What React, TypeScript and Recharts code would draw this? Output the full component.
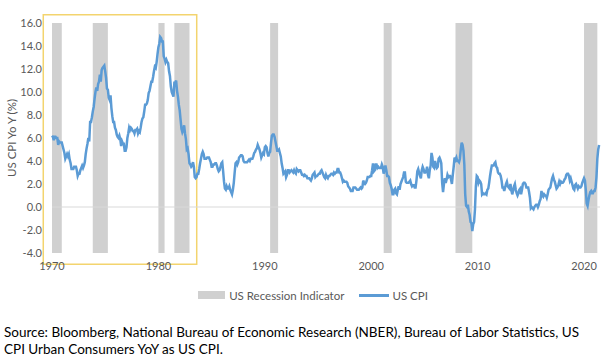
import {
  ComposedChart,
  Line,
  XAxis,
  YAxis,
  ReferenceArea,
  ReferenceLine,
  Legend,
} from "recharts";

// US CPI YoY (%), monthly, Jan 1970 .. Jun 2021
const cpi1970s = [
  6.2, 6.1, 5.8, 6.1, 6.1, 6.0, 6.0, 5.4, 5.7, 5.6, 5.6, 5.6,
  5.3, 5.0, 4.7, 4.2, 4.4, 4.6, 4.4, 4.6, 4.1, 3.8, 3.3, 3.3,
  3.3, 3.5, 3.5, 3.5, 3.2, 2.7, 2.9, 2.9, 3.2, 3.4, 3.6, 3.4,
  3.6, 3.9, 4.6, 5.1, 5.5, 6.0, 5.7, 7.4, 7.4, 7.8, 8.3, 8.7,
  9.4, 10.0, 10.4, 10.1, 10.7, 10.9, 11.5, 10.9, 11.9, 12.1, 12.2, 12.3,
  11.8, 11.2, 10.3, 10.2, 9.5, 9.3, 9.7, 8.6, 7.9, 7.4, 7.4, 6.9,
  6.7, 6.3, 6.1, 6.0, 6.2, 5.9, 5.3, 5.7, 5.5, 5.5, 4.9, 4.9,
  5.2, 6.0, 6.4, 6.9, 6.7, 6.9, 6.8, 6.6, 6.6, 6.4, 6.7, 6.7,
  6.8, 6.4, 6.6, 6.5, 6.9, 7.4, 7.7, 7.8, 8.3, 8.9, 8.9, 9.0,
  9.3, 9.9, 10.1, 10.5, 10.9, 10.9, 11.3, 11.8, 12.2, 12.1, 12.6, 13.3,
];
const cpi1980s = [
  13.9, 14.2, 14.8, 14.7, 14.4, 14.4, 13.1, 12.9, 12.6, 12.8, 12.6, 12.5,
  11.8, 11.4, 10.5, 10.0, 9.8, 9.6, 10.8, 10.8, 11.0, 10.1, 9.6, 8.9,
  8.4, 7.6, 6.8, 6.5, 6.7, 7.1, 6.4, 5.9, 5.0, 5.1, 4.6, 3.8,
  3.7, 3.5, 3.6, 3.9, 3.5, 2.6, 2.5, 2.6, 2.9, 2.9, 3.3, 3.8,
  4.2, 4.6, 4.8, 4.6, 4.2, 4.2, 4.2, 4.3, 4.3, 4.3, 4.1, 3.9,
  3.5, 3.5, 3.7, 3.7, 3.8, 3.8, 3.6, 3.3, 3.1, 3.2, 3.5, 3.8,
  3.9, 3.1, 2.2, 1.6, 1.5, 1.8, 1.6, 1.6, 1.8, 1.5, 1.3, 1.1,
  1.5, 2.1, 3.0, 3.8, 3.9, 3.7, 3.9, 4.3, 4.4, 4.5, 4.5, 4.4,
  4.0, 3.9, 3.9, 3.9, 3.9, 4.0, 4.1, 4.0, 4.2, 4.2, 4.2, 4.4,
  4.7, 4.8, 5.0, 5.1, 5.4, 5.2, 5.0, 4.7, 4.3, 4.5, 4.7, 4.6,
];
const cpi1990s = [
  5.2, 5.3, 5.2, 4.7, 4.4, 4.7, 4.8, 5.6, 6.2, 6.3, 6.3, 6.1,
  5.7, 5.3, 4.9, 4.9, 5.0, 4.7, 4.4, 3.8, 3.4, 2.9, 3.0, 3.1,
  2.6, 2.8, 3.2, 3.2, 3.0, 3.1, 3.2, 3.1, 3.0, 3.2, 3.0, 2.9,
  3.3, 3.2, 3.1, 3.2, 3.2, 3.0, 2.8, 2.8, 2.7, 2.8, 2.7, 2.7,
  2.5, 2.5, 2.5, 2.4, 2.3, 2.5, 2.8, 2.9, 3.0, 2.6, 2.7, 2.7,
  2.8, 2.9, 2.9, 3.1, 3.2, 3.0, 2.8, 2.6, 2.5, 2.8, 2.6, 2.5,
  2.7, 2.7, 2.8, 2.9, 2.9, 2.8, 3.0, 2.9, 3.0, 3.0, 3.3, 3.3,
  3.0, 3.0, 2.8, 2.5, 2.2, 2.3, 2.2, 2.2, 2.2, 2.1, 1.8, 1.7,
  1.6, 1.4, 1.4, 1.4, 1.7, 1.7, 1.7, 1.6, 1.5, 1.5, 1.5, 1.6,
  1.7, 1.6, 1.7, 2.3, 2.1, 2.0, 2.1, 2.3, 2.6, 2.6, 2.6, 2.7,
];
const cpi2000s = [
  2.7, 3.2, 3.8, 3.1, 3.2, 3.7, 3.7, 3.4, 3.5, 3.4, 3.4, 3.4,
  3.7, 3.5, 2.9, 3.3, 3.6, 3.2, 2.7, 2.7, 2.6, 2.1, 1.9, 1.6,
  1.1, 1.1, 1.5, 1.6, 1.2, 1.1, 1.5, 1.8, 1.5, 2.0, 2.2, 2.4,
  2.6, 3.0, 3.0, 2.2, 2.1, 2.1, 2.1, 2.2, 2.3, 2.0, 1.8, 1.9,
  1.9, 1.7, 1.7, 2.3, 3.1, 3.3, 3.0, 2.7, 2.5, 3.2, 3.5, 3.3,
  3.0, 3.0, 3.1, 3.5, 2.8, 2.5, 3.2, 3.6, 4.7, 4.3, 3.5, 3.4,
  4.0, 3.6, 3.4, 3.5, 4.2, 4.3, 4.1, 3.8, 2.1, 1.3, 2.0, 2.5,
  2.1, 2.4, 2.8, 2.6, 2.7, 2.7, 2.4, 2.0, 2.8, 3.5, 4.3, 4.1,
  4.3, 4.0, 4.0, 3.9, 4.2, 5.0, 5.6, 5.4, 4.9, 3.7, 1.1, 0.1,
  0.0, 0.2, -0.4, -0.7, -1.3, -1.4, -2.1, -1.5, -1.3, -0.2, 1.8, 2.7,
];
const cpi2010s = [
  2.6, 2.1, 2.3, 2.2, 2.0, 1.1, 1.2, 1.1, 1.1, 1.2, 1.1, 1.5,
  1.6, 2.1, 2.7, 3.2, 3.6, 3.6, 3.6, 3.8, 3.9, 3.5, 3.4, 3.0,
  2.9, 2.9, 2.7, 2.3, 1.7, 1.7, 1.4, 1.7, 2.0, 2.2, 1.8, 1.7,
  1.6, 2.0, 1.5, 1.1, 1.4, 1.8, 2.0, 1.5, 1.2, 1.0, 1.2, 1.5,
  1.6, 1.1, 1.5, 2.0, 2.1, 2.1, 2.0, 1.7, 1.7, 1.7, 1.3, 0.8,
  -0.1, 0.0, -0.1, -0.2, 0.0, 0.1, 0.2, 0.2, 0.0, 0.2, 0.5, 0.7,
  1.4, 1.0, 0.9, 1.1, 1.0, 1.0, 0.8, 1.1, 1.5, 1.6, 1.7, 2.1,
  2.5, 2.7, 2.4, 2.2, 1.9, 1.6, 1.7, 1.9, 2.2, 2.0, 2.2, 2.1,
  2.1, 2.2, 2.4, 2.5, 2.8, 2.9, 2.9, 2.7, 2.3, 2.5, 2.2, 1.9,
  1.6, 1.5, 1.9, 2.0, 1.8, 1.6, 1.8, 1.7, 1.7, 1.8, 2.1, 2.3,
];
const cpi2020s = [
  2.5, 2.3, 1.5, 0.3, 0.1, 0.6, 1.0, 1.3, 1.4, 1.2, 1.2, 1.4,
  1.4, 1.7, 2.6, 4.2, 5.0, 5.4,
];

// recession periods, [start, end] in decimal years
const recessions = [
  [1970.0, 1970.92],
  [1973.83, 1975.25],
  [1980.0, 1980.58],
  [1981.5, 1982.92],
  [1990.5, 1991.25],
  [2001.17, 2001.92],
  [2007.92, 2009.5],
  [2020.0, 2021.25],
];

const xTicks = [1970, 1980, 1990, 2000, 2010, 2020];
const yTicks = [-4, -2, 0, 2, 4, 6, 8, 10, 12, 14, 16];

// highlighted 1970s-early 80s box
const highlight = { x1: 1969.18, x2: 1983.6, y1: -4.98, y2: 16.72 };

const cpiAll = [...cpi1970s, ...cpi1980s, ...cpi1990s, ...cpi2000s, ...cpi2010s, ...cpi2020s];
const data = cpiAll.map((v, i) => ({ t: 1970 + i / 12, cpi: v }));

const font = "Lato, 'Noto Sans', sans-serif";
const tickStyle = { fontSize: 11, fill: "#595959", fontFamily: font };

function ChartLegend() {
  return (
    <div
      style={{
        display: "flex",
        justifyContent: "center",
        alignItems: "center",
        height: 30,
        fontFamily: font,
        fontSize: 11.5,
        color: "#595959",
        paddingLeft: 26,
      }}
    >
      <span style={{ width: 27, height: 8, background: "#d0d0d0", marginRight: 4 }} />
      <span style={{ marginRight: 15 }}>US Recession Indicator</span>
      <span style={{ width: 30, height: 3, background: "#5b9bd5", marginRight: 3 }} />
      <span>US CPI</span>
    </div>
  );
}

export default function App() {
  return (
    <div style={{ position: "absolute", left: 0, top: 0, width: 605, height: 359, background: "#fff" }}>
      <ComposedChart width={605} height={310} data={data} margin={{ top: 23, right: 5, left: 0, bottom: 0 }}>
        <XAxis
          dataKey="t"
          type="number"
          domain={[1970, 2021.5]}
          ticks={xTicks}
          tickFormatter={(v) => String(v)}
          axisLine={false}
          tickLine={false}
          tickSize={0}
          tickMargin={9}
          height={27}
          tick={tickStyle}
          interval={0}
        />
        <YAxis
          type="number"
          domain={[-4, 16]}
          ticks={yTicks}
          tickFormatter={(v) => v.toFixed(1)}
          axisLine={false}
          tickLine={false}
          tickSize={0}
          tickMargin={10}
          width={52}
          tick={tickStyle}
          interval={0}
          label={{
            value: "US CPI Yo Y (%)",
            angle: -90,
            position: "insideLeft",
            offset: 12,
            style: { textAnchor: "middle", fontSize: 11.5, fill: "#595959", fontFamily: font },
          }}
        />
        {recessions.map(([a, b], i) => (
          <ReferenceArea key={i} x1={a} x2={b} y1={-4} y2={16} fill="#d0d0d0" fillOpacity={1} stroke="none" />
        ))}
        <ReferenceLine y={0} stroke="#d9d9d9" strokeWidth={1} />
        <ReferenceArea
          x1={highlight.x1}
          x2={highlight.x2}
          y1={highlight.y1}
          y2={highlight.y2}
          ifOverflow="visible"
          fill="none"
          stroke="#f3d46e"
          strokeWidth={1.5}
        />
        <Line
          type="linear"
          dataKey="cpi"
          stroke="#5b9bd5"
          strokeWidth={2.5}
          dot={false}
          isAnimationActive={false}
        />
        <Legend verticalAlign="bottom" height={30} content={() => <ChartLegend />} />
      </ComposedChart>
      <div
        style={{
          position: "absolute",
          left: 4,
          top: 324,
          fontFamily: font,
          fontSize: 13.5,
          lineHeight: "17px",
          color: "#000",
        }}
      >
        Source: Bloomberg, National Bureau of Economic Research (NBER), Bureau of Labor Statistics, US
        <br />
        CPI Urban Consumers YoY as US CPI.
      </div>
    </div>
  );
}
